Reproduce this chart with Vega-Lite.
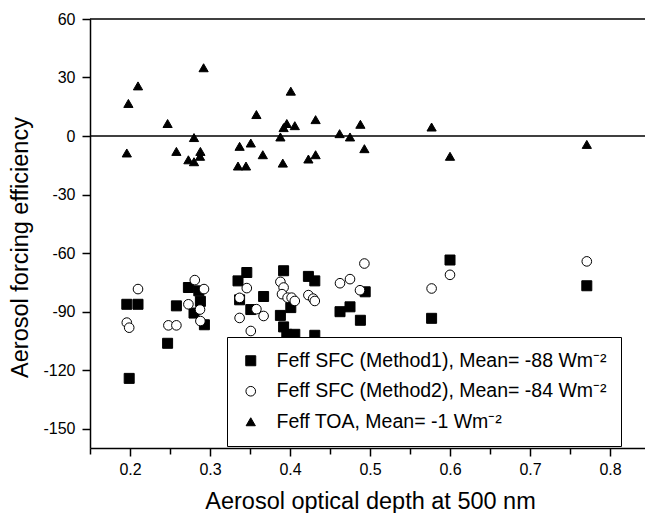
{
  "$schema": "https://vega.github.io/schema/vega-lite/v6.json",
  "autosize": {"type": "none"},
  "padding": {"left": 90, "top": 19, "right": 0, "bottom": 65},
  "width": 555,
  "height": 429,
  "background": "white",
  "config": {
    "view": {"stroke": null},
    "font": "Liberation Sans",
    "axis": {
      "domainColor": "black", "domainWidth": 1.5, "tickColor": "black", "tickWidth": 1.5,
      "labelColor": "black", "titleColor": "black", "labelFont": "Liberation Sans", "titleFont": "Liberation Sans",
      "labelFontSize": 16, "titleFontSize": 23.5, "titleFontWeight": "normal", "grid": false
    },
    "legend": {
      "strokeColor": "black", "fillColor": "white", "padding": 14,
      "labelFontSize": 19.5, "labelFont": "Liberation Sans", "labelColor": "black",
      "symbolStrokeWidth": 1,
      "labelOffset": 16, "rowPadding": 9.5, "labelLimit": 420
    }
  },
  "datasets": {
    "pts": [
      {"s": "M1", "x": 0.196, "y": -86.3}, {"s": "M1", "x": 0.210, "y": -86.3}, {"s": "M1", "x": 0.199, "y": -124.3},
      {"s": "M1", "x": 0.247, "y": -106.3}, {"s": "M1", "x": 0.258, "y": -87.1}, {"s": "M1", "x": 0.273, "y": -77.7},
      {"s": "M1", "x": 0.286, "y": -79.4}, {"s": "M1", "x": 0.288, "y": -84.8}, {"s": "M1", "x": 0.280, "y": -90.8},
      {"s": "M1", "x": 0.293, "y": -96.8}, {"s": "M1", "x": 0.335, "y": -74.3}, {"s": "M1", "x": 0.346, "y": -70.0},
      {"s": "M1", "x": 0.337, "y": -84.0}, {"s": "M1", "x": 0.351, "y": -89.0}, {"s": "M1", "x": 0.367, "y": -82.3},
      {"s": "M1", "x": 0.392, "y": -69.1}, {"s": "M1", "x": 0.388, "y": -92.0}, {"s": "M1", "x": 0.392, "y": -97.9},
      {"s": "M1", "x": 0.401, "y": -88.0}, {"s": "M1", "x": 0.396, "y": -101.7}, {"s": "M1", "x": 0.406, "y": -101.7},
      {"s": "M1", "x": 0.423, "y": -72.0}, {"s": "M1", "x": 0.431, "y": -74.3}, {"s": "M1", "x": 0.431, "y": -102.2},
      {"s": "M1", "x": 0.4625, "y": -90.1}, {"s": "M1", "x": 0.475, "y": -87.6}, {"s": "M1", "x": 0.488, "y": -94.5},
      {"s": "M1", "x": 0.494, "y": -79.9}, {"s": "M1", "x": 0.577, "y": -93.5}, {"s": "M1", "x": 0.600, "y": -63.6},
      {"s": "M1", "x": 0.771, "y": -76.8},
      {"s": "M2", "x": 0.210, "y": -78.5}, {"s": "M2", "x": 0.196, "y": -95.7}, {"s": "M2", "x": 0.199, "y": -98.3},
      {"s": "M2", "x": 0.248, "y": -97.1}, {"s": "M2", "x": 0.258, "y": -97.1}, {"s": "M2", "x": 0.281, "y": -73.9},
      {"s": "M2", "x": 0.2925, "y": -78.5}, {"s": "M2", "x": 0.273, "y": -86.3}, {"s": "M2", "x": 0.2875, "y": -89.0},
      {"s": "M2", "x": 0.288, "y": -94.9}, {"s": "M2", "x": 0.346, "y": -78.0}, {"s": "M2", "x": 0.337, "y": -83.0},
      {"s": "M2", "x": 0.358, "y": -88.8}, {"s": "M2", "x": 0.367, "y": -92.3}, {"s": "M2", "x": 0.337, "y": -93.3},
      {"s": "M2", "x": 0.351, "y": -100.0}, {"s": "M2", "x": 0.388, "y": -74.8}, {"s": "M2", "x": 0.392, "y": -77.7},
      {"s": "M2", "x": 0.390, "y": -81.1}, {"s": "M2", "x": 0.397, "y": -82.9}, {"s": "M2", "x": 0.402, "y": -82.9},
      {"s": "M2", "x": 0.406, "y": -84.6}, {"s": "M2", "x": 0.423, "y": -81.6}, {"s": "M2", "x": 0.429, "y": -83.4},
      {"s": "M2", "x": 0.431, "y": -84.6}, {"s": "M2", "x": 0.4625, "y": -75.5}, {"s": "M2", "x": 0.475, "y": -73.4},
      {"s": "M2", "x": 0.493, "y": -65.4}, {"s": "M2", "x": 0.4875, "y": -79.1}, {"s": "M2", "x": 0.577, "y": -78.2},
      {"s": "M2", "x": 0.600, "y": -71.2}, {"s": "M2", "x": 0.771, "y": -64.3},
      {"s": "TOA", "x": 0.196, "y": -8.7}, {"s": "TOA", "x": 0.198, "y": 16.7}, {"s": "TOA", "x": 0.210, "y": 25.7},
      {"s": "TOA", "x": 0.292, "y": 35.0}, {"s": "TOA", "x": 0.247, "y": 6.4}, {"s": "TOA", "x": 0.258, "y": -7.9},
      {"s": "TOA", "x": 0.280, "y": -0.8}, {"s": "TOA", "x": 0.288, "y": -7.9}, {"s": "TOA", "x": 0.273, "y": -12.2},
      {"s": "TOA", "x": 0.280, "y": -13.2}, {"s": "TOA", "x": 0.2875, "y": -10.4}, {"s": "TOA", "x": 0.337, "y": -5.3},
      {"s": "TOA", "x": 0.351, "y": -3.6}, {"s": "TOA", "x": 0.335, "y": -15.4}, {"s": "TOA", "x": 0.345, "y": -15.4},
      {"s": "TOA", "x": 0.358, "y": 11.0}, {"s": "TOA", "x": 0.366, "y": -9.6}, {"s": "TOA", "x": 0.391, "y": -13.9},
      {"s": "TOA", "x": 0.388, "y": -0.5}, {"s": "TOA", "x": 0.392, "y": 4.3}, {"s": "TOA", "x": 0.396, "y": 6.4},
      {"s": "TOA", "x": 0.406, "y": 5.3}, {"s": "TOA", "x": 0.401, "y": 23.0}, {"s": "TOA", "x": 0.423, "y": -11.8},
      {"s": "TOA", "x": 0.432, "y": -9.6}, {"s": "TOA", "x": 0.432, "y": 8.4}, {"s": "TOA", "x": 0.462, "y": 1.2},
      {"s": "TOA", "x": 0.475, "y": -0.5}, {"s": "TOA", "x": 0.488, "y": 6.0}, {"s": "TOA", "x": 0.493, "y": -6.5},
      {"s": "TOA", "x": 0.577, "y": 4.6}, {"s": "TOA", "x": 0.600, "y": -10.4}, {"s": "TOA", "x": 0.771, "y": -4.3}
    ],
    "lines": [{"y": 0}, {"y": 60}]
  },
  "layer": [
    {
      "data": {"name": "lines"},
      "mark": {"type": "rule", "color": "black", "strokeWidth": 1.5},
      "encoding": {"y": {"field": "y", "type": "quantitative", "scale": {"domain": [-160, 60]}}}
    },
    {
      "data": {"name": "pts"},
      "mark": {"type": "point", "filled": true, "strokeWidth": 1, "opacity": 1},
      "encoding": {
        "x": {
          "field": "x", "type": "quantitative",
          "scale": {"domain": [0.15, 0.84375], "nice": false, "zero": false},
          "axis": {
            "title": "Aerosol optical depth at 500 nm",
            "values": [0.15, 0.2, 0.25, 0.3, 0.35, 0.4, 0.45, 0.5, 0.55, 0.6, 0.65, 0.7, 0.75, 0.8],
            "labelExpr": "abs(datum.value*10 - round(datum.value*10)) < 0.01 ? format(datum.value, '.1f') : ''",
            "tickSize": {"condition": {"test": "abs(datum.value*10 - round(datum.value*10)) < 0.01", "value": 8}, "value": 6},
            "labelPadding": 5,
            "titleX": 280, "titleY": 60, "titleBaseline": "alphabetic", "titleAnchor": "middle", "titleAlign": "center"
          }
        },
        "y": {
          "field": "y", "type": "quantitative",
          "scale": {"domain": [-160, 60], "nice": false, "zero": false},
          "axis": {
            "title": "Aerosol forcing efficiency",
            "values": [-150, -135, -120, -105, -90, -75, -60, -45, -30, -15, 0, 15, 30, 45, 60],
            "labelExpr": "datum.value % 30 === 0 ? '' + datum.value : ''",
            "tickSize": {"condition": {"test": "datum.value % 30 === 0", "value": 8}, "value": 5},
            "labelPadding": 7,
            "titleX": -63, "titleY": 228, "titleBaseline": "alphabetic", "titleAlign": "center", "titleAngle": -90
          }
        },
        "shape": {
          "field": "s", "type": "nominal",
          "scale": {"domain": ["M1", "M2", "TOA"], "range": ["square", "circle", "triangle-up"]},
          "legend": {
            "title": null, "orient": "none", "legendX": 137, "legendY": 318, "direction": "vertical",
            "labelExpr": "datum.label == 'M1' ? 'Feff SFC (Method1), Mean= -88 Wm⁻²' : datum.label == 'M2' ? 'Feff SFC (Method2), Mean= -84 Wm⁻²' : 'Feff TOA, Mean= -1 Wm⁻²'"
          }
        },
        "fill": {
          "field": "s", "type": "nominal",
          "scale": {"domain": ["M1", "M2", "TOA"], "range": ["black", "white", "black"]},
          "legend": {
            "title": null, "orient": "none", "legendX": 137, "legendY": 318, "direction": "vertical",
            "labelExpr": "datum.label == 'M1' ? 'Feff SFC (Method1), Mean= -88 Wm⁻²' : datum.label == 'M2' ? 'Feff SFC (Method2), Mean= -84 Wm⁻²' : 'Feff TOA, Mean= -1 Wm⁻²'"
          }
        },
        "stroke": {
          "field": "s", "type": "nominal",
          "scale": {"domain": ["M1", "M2", "TOA"], "range": ["black", "black", "black"]},
          "legend": {
            "title": null, "orient": "none", "legendX": 137, "legendY": 318, "direction": "vertical",
            "labelExpr": "datum.label == 'M1' ? 'Feff SFC (Method1), Mean= -88 Wm⁻²' : datum.label == 'M2' ? 'Feff SFC (Method2), Mean= -84 Wm⁻²' : 'Feff TOA, Mean= -1 Wm⁻²'"
          }
        },
        "size": {
          "field": "s", "type": "nominal",
          "scale": {"domain": ["M1", "M2", "TOA"], "range": [100, 85, 215]},
          "legend": {
            "title": null, "orient": "none", "legendX": 137, "legendY": 318, "direction": "vertical",
            "labelExpr": "datum.label == 'M1' ? 'Feff SFC (Method1), Mean= -88 Wm⁻²' : datum.label == 'M2' ? 'Feff SFC (Method2), Mean= -84 Wm⁻²' : 'Feff TOA, Mean= -1 Wm⁻²'"
          }
        }
      }
    }
  ]
}
